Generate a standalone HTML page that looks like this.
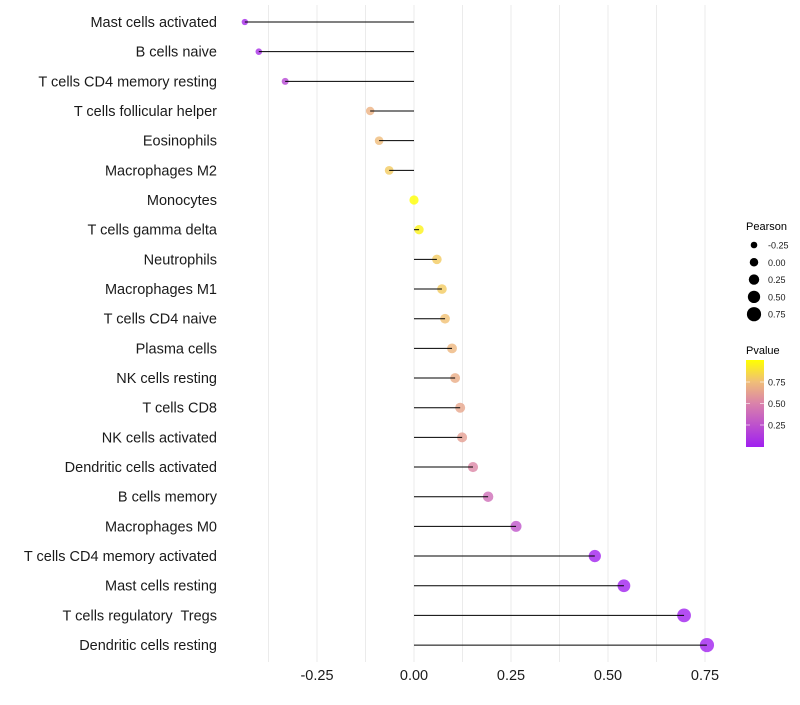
<!DOCTYPE html>
<html><head><meta charset="utf-8"><style>
body{margin:0;background:#fff;font-family:"Liberation Sans",sans-serif}
</style></head><body>
<svg id="chart" width="800" height="700" xmlns="http://www.w3.org/2000/svg" font-family="Liberation Sans, sans-serif"></svg>
<script>
const categories=["Mast cells activated","B cells naive","T cells CD4 memory resting","T cells follicular helper","Eosinophils","Macrophages M2","Monocytes","T cells gamma delta","Neutrophils","Macrophages M1","T cells CD4 naive","Plasma cells","NK cells resting","T cells CD8","NK cells activated","Dendritic cells activated","B cells memory","Macrophages M0","T cells CD4 memory activated","Mast cells resting","T cells regulatory  Tregs","Dendritic cells resting"];
const pearson=[-0.436,-0.400,-0.332,-0.113,-0.090,-0.064,0.000,0.013,0.059,0.072,0.080,0.098,0.106,0.119,0.124,0.152,0.191,0.263,0.466,0.541,0.696,0.755];
const pvalue=[0.04,0.07,0.2,0.7,0.74,0.8,1.0,0.95,0.8,0.8,0.76,0.72,0.68,0.65,0.62,0.52,0.4,0.27,0.01,0.01,0.01,0.01];
const xTicks=[-0.25,0,0.25,0.5,0.75];
const xTickLabels=["-0.25","0.00","0.25","0.50","0.75"];
const sizeBreaks=[-0.25,0,0.25,0.5,0.75];
const sizeLabels=["-0.25","0.00","0.25","0.50","0.75"];
const pBreaks=[0.75,0.5,0.25];
const pLabels=["0.75","0.50","0.25"];

const svg=document.getElementById('chart');
const NS='http://www.w3.org/2000/svg';
const X=v=>414+v*388;
const Y=i=>22+i*29.67;
const R=v=>Math.max(1.6,4.6+v*3.3);
function lerp(a,b,t){return a.map((x,i)=>Math.round(x+(b[i]-x)*t));}
function col(p){
  const stops=[[0,[160,32,240]],[0.5,[218,130,170]],[0.75,[240,190,120]],[1,[255,255,0]]];
  p=Math.max(0,Math.min(1,p));
  for(let i=1;i<stops.length;i++){if(p<=stops[i][0]){const t=(p-stops[i-1][0])/(stops[i][0]-stops[i-1][0]);const c=lerp(stops[i-1][1],stops[i][1],t);return `rgb(${c})`;}}
  return 'rgb(255,255,0)';
}
function el(tag,attrs,parent){const e=document.createElementNS(NS,tag);for(const k in attrs)e.setAttribute(k,attrs[k]);(parent||svg).appendChild(e);return e;}

for(let v=-0.375;v<=0.76;v+=0.125){
  const g=el('line',{x1:X(v),x2:X(v),y1:5,y2:662,stroke:'#ebebeb','stroke-width':1});
  
  
}
categories.forEach((c,i)=>{
  const y=Y(i);
  const t=el('text',{x:217,y:y+5,'text-anchor':'end','font-size':14.5,fill:'#1a1a1a'});
  t.style.whiteSpace='pre';
  t.textContent=c;
  
  
  const pt=el('circle',{cx:X(pearson[i]),cy:y,r:R(pearson[i]),fill:col(pvalue[i]),'fill-opacity':0.8});
  
  
  const s=el('line',{x1:X(pearson[i]),x2:X(0),y1:y,y2:y,stroke:'#000','stroke-width':1});
  
  
});
xTicks.forEach((v,i)=>{
  const t=el('text',{x:X(v),y:680,'text-anchor':'middle','font-size':14.5,fill:'#1a1a1a'});
  t.textContent=xTickLabels[i];
  
  
});
const lt=el('text',{x:746,y:230,'font-size':11,fill:'#000'});lt.textContent='Pearson';


sizeBreaks.forEach((v,i)=>{
  const y=245+i*17.3;
  const c=el('circle',{cx:754,cy:y,r:3.3+i*0.95,fill:'#000'});
  
  
  const t=el('text',{x:768,y:y+3.5,'font-size':9,fill:'#1a1a1a'});t.textContent=sizeLabels[i];
  
  
});
const pt2=el('text',{x:746,y:354,'font-size':11,fill:'#000'});pt2.textContent='Pvalue';


const defs=el('defs',{});
const lg=el('linearGradient',{id:'pg',x1:0,y1:1,x2:0,y2:0},defs);
[0,0.25,0.5,0.75,1].forEach(o=>el('stop',{offset:o,'stop-color':col(o*1.0)},lg));
const bar=el('rect',{x:746,y:360,width:18,height:87,fill:'url(#pg)'});


pBreaks.forEach((p,i)=>{
  const y=425-(p-0.25)*86;
  el('line',{x1:746,x2:750,y1:y,y2:y,stroke:'#fff','stroke-width':0.6});
  el('line',{x1:760,x2:764,y1:y,y2:y,stroke:'#fff','stroke-width':0.6});
  const t=el('text',{x:768,y:y+3.5,'font-size':9,fill:'#1a1a1a'});t.textContent=pLabels[i];
  
  
});
</script>
</body></html>
